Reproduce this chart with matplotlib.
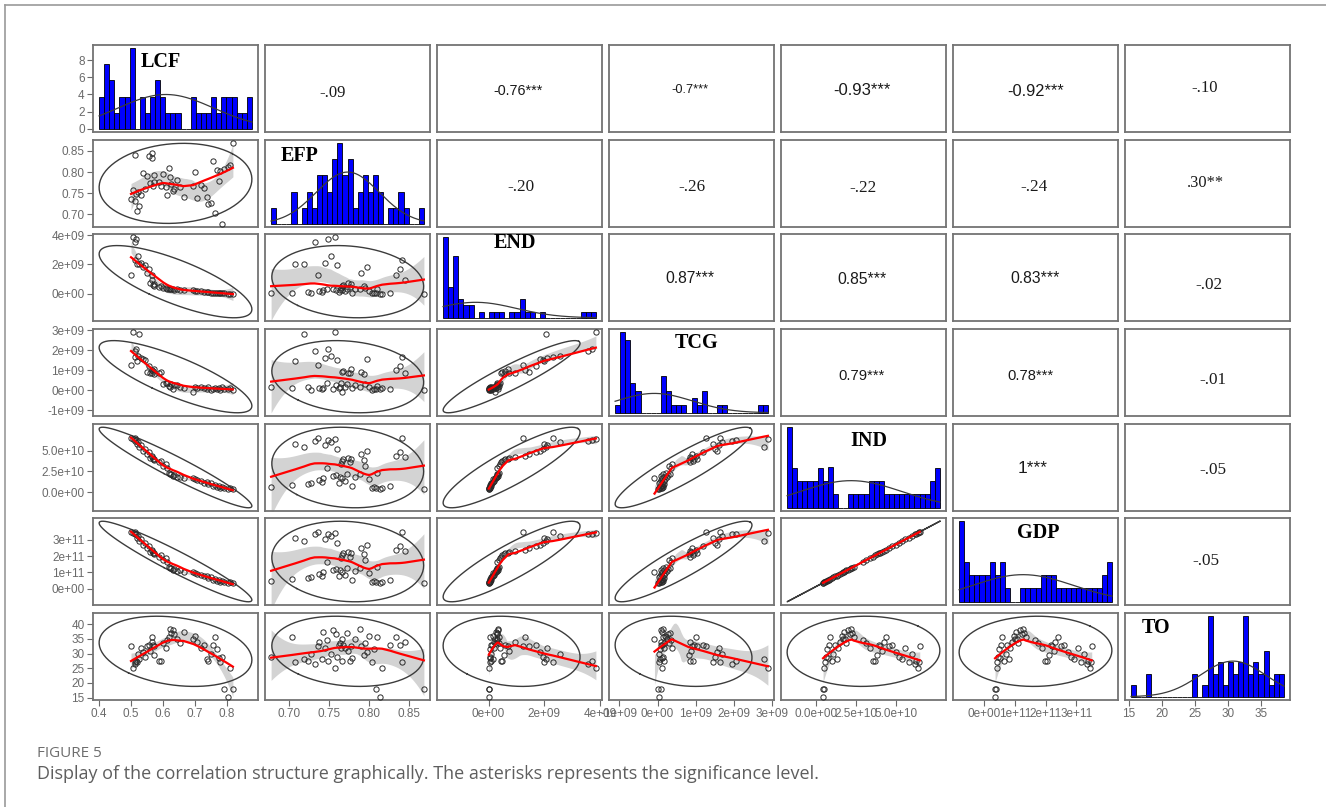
import numpy as np
import matplotlib
matplotlib.use("Agg")
import matplotlib.pyplot as plt
from matplotlib.lines import Line2D

# ---- data (time ordered observations) ----
names = ["LCF", "EFP", "END", "TCG", "IND", "GDP", "TO"]

lcf = [0.804, 0.820, 0.793, 0.812, 0.780, 0.785, 0.770, 0.775, 0.759,
       0.764, 0.742, 0.750, 0.729, 0.738, 0.719, 0.708,
       0.700, 0.695, 0.665, 0.644, 0.655, 0.631, 0.636, 0.622, 0.626, 0.619,
       0.614, 0.601, 0.609, 0.588, 0.593, 0.573, 0.569, 0.571, 0.561, 0.567,
       0.565, 0.550, 0.556, 0.537, 0.545, 0.526, 0.530, 0.520, 0.523, 0.512,
       0.517, 0.505, 0.514, 0.500]
efp = [0.813, 0.868, 0.808, 0.816, 0.803, 0.678, 0.806, 0.779, 0.826,
       0.704, 0.724, 0.727, 0.762, 0.741, 0.770, 0.738,
       0.800, 0.766, 0.742, 0.782, 0.764, 0.755, 0.759, 0.788, 0.772, 0.810,
       0.747, 0.795, 0.765, 0.776, 0.7664, 0.793, 0.768, 0.777, 0.774,
       0.845, 0.833, 0.790, 0.838, 0.797, 0.760, 0.719, 0.745, 0.708, 0.752,
       0.732, 0.749, 0.757, 0.841, 0.736]
end_bn = [0.01, 0.02, 0.03, 0.02, 0.04, 0.05, 0.06, 0.04, 0.08, 0.07, 0.10, 0.09, 0.12,
          0.15, 0.18, 0.20, 0.17, 0.23,
          0.28, 0.30, 0.27, 0.33, 0.29, 0.35, 0.31, 0.36, 0.32, 0.38,
          0.42, 0.45, 0.50, 0.55, 0.60, 0.70, 0.75,
          0.95, 1.30, 1.45, 1.70, 1.85, 1.95, 2.05, 2.10, 2.00, 2.55, 3.55, 3.70, 3.85, 2.30, 1.25]
tcg_bn = [0.05, 0.02, 0.08, 0.12, 0.03, 0.15, 0.06, 0.11, 0.09, 0.14, 0.18, 0.04, 0.13,
          0.07, 0.16, 0.10, 0.19, -0.08,
          0.12, 0.25, 0.17, 0.09, 0.28, 0.15, 0.33, 0.22, 0.36, 0.31,
          0.38, 0.85, 0.92, 0.82, 0.97, 1.05, 0.88,
          0.86, 1.00, 0.90, 1.20, 1.55, 1.50, 2.80, 1.62, 1.45, 1.70, 1.95, 2.05, 2.90, 1.65, 1.28]
ind_e10 = [0.43, 0.45, 0.48, 0.52, 0.56, 0.61, 0.66, 0.72, 0.80, 0.88,
           0.97, 1.08, 1.18, 1.29, 1.40, 1.50, 1.60, 1.69, 1.76, 1.83,
           1.90, 2.00, 2.10, 2.17, 2.24, 2.35, 2.95, 3.15, 3.38, 3.58,
           3.72, 3.82, 3.95, 4.04, 4.15, 4.24, 4.40, 4.60, 4.80, 5.00,
           5.20, 5.40, 5.62, 5.82, 6.02, 6.20, 6.26, 6.38, 6.46, 6.52]
gdp_e11 = [0.36, 0.37, 0.39, 0.41, 0.43, 0.45, 0.48, 0.51, 0.55, 0.59,
           0.64, 0.70, 0.75, 0.80, 0.86, 0.91, 0.96, 1.01, 1.05, 1.08,
           1.12, 1.17, 1.22, 1.26, 1.29, 1.35, 1.66, 1.76, 1.88, 1.98,
           2.06, 2.11, 2.17, 2.22, 2.28, 2.32, 2.41, 2.51, 2.61, 2.72,
           2.82, 2.92, 3.04, 3.14, 3.24, 3.34, 3.37, 3.43, 3.47, 3.50]
to = [15.3, 18.0, 17.8, 25.0, 27.0, 29.0, 31.5, 28.5, 33.0,
      35.5, 27.5, 30.0, 33.0, 28.0, 32.0, 34.0,
      36.0, 35.0, 37.5, 35.0, 33.5, 38.0, 36.5, 38.5, 37.0, 35.5,
      34.5, 33.5, 32.0, 27.5, 27.5, 29.5, 33.0, 32.5, 31.0, 34.0,
      35.5, 32.5, 33.0, 30.5, 29.0, 28.0, 32.0, 27.0, 30.0, 26.5, 27.5, 25.0, 27.0, 32.5]

data = [np.array(lcf), np.array(efp), np.array(end_bn) * 1e9, np.array(tcg_bn) * 1e9,
        np.array(ind_e10) * 1e10, np.array(gdp_e11) * 1e11, np.array(to)]

# correlation labels for the upper triangle: (row, col, text, serif?)
upper_labels = [
    (0, 1, "-.09", True), (0, 2, "-0.76***", False), (0, 3, "-0.7***", False),
    (0, 4, "-0.93***", False), (0, 5, "-0.92***", False), (0, 6, "-.10", True),
    (1, 2, "-.20", True), (1, 3, "-.26", True), (1, 4, "-.22", True),
    (1, 5, "-.24", True), (1, 6, ".30**", True),
    (2, 3, "0.87***", False), (2, 4, "0.85***", False), (2, 5, "0.83***", False),
    (2, 6, "-.02", True),
    (3, 4, "0.79***", False), (3, 5, "0.78***", False), (3, 6, "-.01", True),
    (4, 5, "1***", False), (4, 6, "-.05", True),
    (5, 6, "-.05", True),
]

tick_values = [
    [0.4, 0.5, 0.6, 0.7, 0.8, 0.9],
    [0.70, 0.75, 0.80, 0.85],
    [0, 2e9, 4e9],
    [-1e9, 0, 1e9, 2e9, 3e9],
    [0, 2.5e10, 5e10],
    [0, 1e11, 2e11, 3e11],
    [15, 20, 25, 30, 35, 40],
]
tick_fmt = ["{:.1f}", "{:.2f}", "{:.0e}", "{:.0e}", "{:.1e}", "{:.0e}", "{:.0f}"]
density_ticks = [0, 2, 4, 6, 8]

# ---- layout / style ----
W, H = 1326, 807
col_left = [93, 265, 437, 609, 781, 953, 1125]
row_top = [45, 140, 234, 329, 424, 518, 613]
PW, PH = 165, 87

label_pos = [(0.41, 0.80), (0.21, 0.82), (0.47, 0.90), (0.53, 0.84),
             (0.53, 0.81), (0.515, 0.83), (0.19, 0.83)]
text_style = {
    (0, 1): (0.41, 0.45, 12), (0, 2): (0.49, 0.47, 10.4), (0, 3): (0.49, 0.48, 9.2),
    (0, 4): (0.49, 0.48, 12), (0, 5): (0.50, 0.47, 11.8), (0, 6): (0.48, 0.51, 12),
    (1, 2): (0.51, 0.46, 12.3), (1, 3): (0.50, 0.46, 12.3), (1, 4): (0.50, 0.45, 12.3),
    (1, 5): (0.49, 0.46, 12.3), (1, 6): (0.49, 0.51, 11.8),
    (2, 3): (0.49, 0.49, 11.3), (2, 4): (0.49, 0.48, 11.3), (2, 5): (0.50, 0.49, 11.3),
    (2, 6): (0.51, 0.41, 12.3),
    (3, 4): (0.485, 0.46, 10.6), (3, 5): (0.47, 0.46, 10.6), (3, 6): (0.53, 0.41, 12.3),
    (4, 5): (0.48, 0.49, 12.5), (4, 6): (0.53, 0.47, 12.3),
    (5, 6): (0.49, 0.51, 12.3),
}

SANS = "Liberation Sans"
SERIF = "Liberation Serif"
FRAME = "#737373"
TICK_COL = "#6a6a6a"
K_ELL = 2.4


def padded(lo, hi, f=0.04):
    d = (hi - lo) * f
    return lo - d, hi + d


def scatter_lim(x):
    m, s = x.mean(), x.std(ddof=1)
    return padded(min(x.min(), m - K_ELL * s), max(x.max(), m + K_ELL * s))


def lowess(x, y, f=2 / 3, iters=3):
    o = np.argsort(x)
    xs, ys = x[o], y[o]
    n = len(xs)
    r = int(np.ceil(f * n))
    h = np.array([np.sort(np.abs(xs - xs[i]))[r - 1] for i in range(n)])
    delta = np.ones(n)
    yest = np.zeros(n)
    for _ in range(iters + 1):
        for i in range(n):
            d = np.abs(xs - xs[i]) / max(h[i], 1e-12)
            w = np.clip(1 - d ** 3, 0, 1) ** 3 * delta
            A = np.column_stack([np.ones(n), xs - xs[i]])
            sw = np.sqrt(w)
            coef = np.linalg.lstsq(A * sw[:, None], ys * sw, rcond=None)[0]
            yest[i] = coef[0]
        res = ys - yest
        s = np.median(np.abs(res))
        u = np.clip(res / (6 * s + 1e-300), -1, 1)
        delta = (1 - u ** 2) ** 2
    return xs, yest


def loess_band(x, y, span=0.75, ngrid=60):
    lo, hi = x.min(), x.max()
    z = (x - lo) / (hi - lo)
    n = len(z)
    k = int(np.ceil(span * n))

    def smoother_row(z0):
        d = np.abs(z - z0)
        hh = max(np.sort(d)[k - 1], 1e-9)
        w = np.clip(1 - (d / hh) ** 3, 0, 1) ** 3
        A = np.column_stack([np.ones(n), z - z0, (z - z0) ** 2])
        AtW = A.T * w
        return np.linalg.pinv(AtW @ A)[0] @ AtW

    S = np.array([smoother_row(z0) for z0 in z])
    resid = y - S @ y
    sigma = np.sqrt(np.sum(resid ** 2) / max(n - np.trace(S), 1))
    grid = np.linspace(0, 1, ngrid)
    L = np.array([smoother_row(g) for g in grid])
    fit = L @ y
    se = sigma * np.sqrt(np.sum(L ** 2, axis=1))
    return grid * (hi - lo) + lo, fit - 2 * se, fit + 2 * se


def ellipse(x, y):
    mx, my = x.mean(), y.mean()
    sx, sy = x.std(ddof=1), y.std(ddof=1)
    r = np.corrcoef(x, y)[0, 1]
    th = np.sign(r) / np.sqrt(2) if r != 0 else 1 / np.sqrt(2)
    shape = np.diag([np.sqrt(1 + r), np.sqrt(1 - r)]) @ np.array([[th, th], [-th, th]])
    a = np.linspace(0, 2 * np.pi, 80)
    e = np.column_stack([np.cos(a), np.sin(a)]) @ shape
    return e[:, 0] * K_ELL * sx + mx, e[:, 1] * K_ELL * sy + my


def set_ticks(ax, axis, vals, fmt, lim):
    v = [t for t in vals if lim[0] <= t <= lim[1]]
    labs = [fmt.format(t) for t in v]
    if axis == "x":
        ax.set_xticks(v)
        ax.set_xticklabels(labs)
    else:
        ax.set_yticks(v)
        ax.set_yticklabels(labs)


plt.rcParams["font.family"] = [SANS, "DejaVu Sans"]
fig = plt.figure(figsize=(W / 100, H / 100), dpi=100)

nv = len(names)
slim = [scatter_lim(v) for v in data]
dlim = [padded(v.min(), v.max()) for v in data]

for i in range(nv):
    for j in range(nv):
        ax = fig.add_axes([col_left[j] / W, 1 - (row_top[i] + PH) / H, PW / W, PH / H])
        for sp in ax.spines.values():
            sp.set_color(FRAME)
            sp.set_linewidth(1.3)
        ax.set_xticks([])
        ax.set_yticks([])
        ax.tick_params(length=4, width=0.8, color=TICK_COL, labelcolor=TICK_COL,
                       labelsize=8.5, pad=2)
        x, y = data[j], data[i]
        if i == j:
            lo, hi = x.min(), x.max()
            dens, edges, _ = ax.hist(x, bins=30, range=(lo, hi), density=True,
                                     color="#0000ff", edgecolor="black", linewidth=0.6,
                                     zorder=2)
            xx = np.linspace(lo, hi, 200)
            m, s = x.mean(), x.std(ddof=1)
            ax.plot(xx, np.exp(-0.5 * ((xx - m) / s) ** 2) / (s * np.sqrt(2 * np.pi)),
                    color="#3a3a3a", lw=0.9, zorder=3)
            top = dens.max()
            ax.set_xlim(dlim[j])
            ax.set_ylim(-0.04 * top, 1.04 * top)
            ax.text(label_pos[i][0], label_pos[i][1], names[i], transform=ax.transAxes,
                    ha="center", va="center", fontsize=14.5, fontweight="bold",
                    family=SERIF, zorder=4)
            if j == 0:
                set_ticks(ax, "y", density_ticks, "{:.0f}", ax.get_ylim())
            if i == nv - 1:
                set_ticks(ax, "x", tick_values[j], tick_fmt[j], dlim[j])
        elif i > j:
            bx, blo, bhi = loess_band(x, y)
            ax.fill_between(bx, blo, bhi, color="#d3d3d3", lw=0, zorder=1)
            ex, ey = ellipse(x, y)
            ax.plot(ex, ey, color="#3c3c3c", lw=1.0, zorder=2)
            ax.plot(x, y, "o", ms=3.8, mfc="none", mec="#2a2a2a", mew=0.7, zorder=3)
            lx, ly = lowess(x, y)
            ax.plot(lx, ly, color="red", lw=1.6, zorder=4)
            ax.set_xlim(slim[j])
            ax.set_ylim(slim[i])
            if j == 0:
                set_ticks(ax, "y", tick_values[i], tick_fmt[i], slim[i])
            if i == nv - 1:
                set_ticks(ax, "x", tick_values[j], tick_fmt[j], slim[j])
        else:
            ax.set_xlim(0, 1)
            ax.set_ylim(0, 1)

for (i, j, txt, serif) in upper_labels:
    ax = fig.axes[i * nv + j]
    fx, fy, fs = text_style[(i, j)]
    ax.text(fx, fy, txt, transform=ax.transAxes, ha="center", va="center",
            fontsize=fs, family=SERIF if serif else SANS, color="#1a1a1a")

# caption box edges
fig.add_artist(Line2D([5 / W, 5 / W], [0, 1 - 5 / H], transform=fig.transFigure,
                      color="#9a9a9a", lw=1.2))
fig.add_artist(Line2D([5 / W, 1], [1 - 5 / H, 1 - 5 / H], transform=fig.transFigure,
                      color="#9a9a9a", lw=1.2))

fig.text(37 / W, 1 - 757 / H, "FIGURE 5", fontsize=11, family="Open Sans",
         color="#6e6e6e", va="baseline")
fig.text(37 / W, 1 - 779 / H,
         "Display of the correlation structure graphically. The asterisks represents the "
         "significance level.",
         fontsize=13, family="Open Sans", color="#5e5e5e", va="baseline")

fig.savefig("out.png", dpi=100)
